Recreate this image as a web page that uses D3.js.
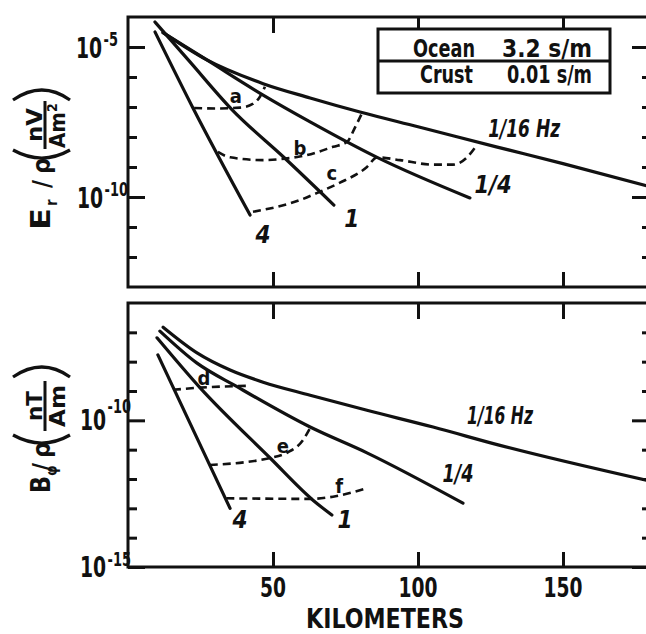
<!DOCTYPE html>
<html>
<head>
<meta charset="utf-8">
<script src="https://cdn.jsdelivr.net/npm/d3@7/dist/d3.min.js"></script>
<style>
body { margin: 0; background: #fff; }
svg { display: block; }
text { font-family: "DejaVu Sans Condensed", "DejaVu Sans", sans-serif; font-weight: bold; fill: #111; }
.curve-label { font-style: italic; }
</style>
</head>
<body>
<div class="chart"></div>
<script>

// x axis (km)
var kmTicks = [50, 100, 150];

// upper panel: E_r / rho  (nV / A m^2)
var erMajor = [1e-5, 1e-10];
var erMinor = [1e-6, 1e-7, 1e-8, 1e-9, 1e-11, 1e-12];
var erHz16 = [[12.1, 3.0e-5], [27.2, 3.7e-6], [46.6, 6.0e-7], [62.8, 2.0e-7], [80, 6.8e-8], [100, 2.2e-8], [127, 4.7e-9], [150, 1.3e-9], [180, 2.2e-10]];
var erHz4 = [[12.1, 3.0e-5], [27.2, 3.7e-6], [46.6, 2.5e-7], [62.8, 3.2e-8], [85.9, 2.1e-9], [117.9, 9.3e-11]];
var erHz1 = [[9.3, 6.8e-5], [21, 3.5e-6], [36, 7.9e-8], [54, 2.0e-9], [71, 5.4e-11]];
var erHz0 = [[9.3, 3.2e-5], [22.4, 9.3e-8], [42.1, 2.5e-11]];   // 4 Hz
var erA = [[22.8, 9.3e-8], [30, 8.9e-8], [38.6, 9.5e-8], [43, 1.26e-7], [45.5, 2.2e-7], [47.2, 4.7e-7]];
var erB = [[31, 3.2e-9], [35.2, 2.1e-9], [46.6, 1.7e-9], [54.1, 1.9e-9], [61.7, 2.5e-9], [70.7, 4.7e-9], [75.5, 6.8e-9], [78.3, 2.1e-8], [80.7, 6.3e-8]];
var erC = [[43.1, 3.2e-11], [59.3, 7.9e-11], [66.2, 1.5e-10], [73.1, 3.0e-10], [82.4, 1.0e-9], [85.9, 2.1e-9], [93.8, 1.7e-9], [105.2, 1.2e-9], [112.1, 1.2e-9], [116.9, 2.1e-9], [120.3, 5.4e-9]];
var erLabels = [["1/16 Hz", 136.6, 1e-8, 72], ["1/4", 125.9, 1.35e-10, 37], ["1", 77.2, 1e-11, 0], ["4", 46.6, 2.9e-12, 0]];
var erLetters = [["a", 37.2, 1.35e-7], ["b", 59.3, 2.5e-9], ["c", 70.3, 3.7e-10]];

// lower panel: B_phi / rho  (nT / A m)
var bpMajor = [1e-10, 1e-15];
var bpMinor = [1e-7, 1e-8, 1e-9, 1e-11, 1e-12, 1e-13, 1e-14];
var bpHz16 = [[12.1, 1.5e-7], [23.8, 2.0e-8], [35.2, 5.2e-9], [46.6, 2.0e-9], [62.8, 7.2e-10], [82.4, 2.2e-10], [105.2, 5.9e-11], [128.3, 1.4e-11], [180, 8.5e-13]];
var bpHz4 = [[11, 1.1e-7], [23.8, 8.9e-9], [37.6, 1.4e-9], [62.8, 5.9e-11], [82.4, 7.8e-12], [115.5, 1.5e-13]];
var bpHz1 = [[10, 6.5e-8], [24.8, 1.3e-9], [49, 5.2e-12], [63.8, 1.9e-13], [70.3, 5.9e-14]];
var bpHz0 = [[10.3, 1.7e-8], [35.2, 1.0e-13]];   // 4 Hz
var bpD = [[15.5, 1.1e-9], [24.8, 1.3e-9], [41, 1.5e-9]];
var bpE = [[28.2, 3.0e-12], [49, 5.2e-12], [54.8, 7.8e-12], [60.3, 2.1e-11], [62.8, 5.5e-11]];
var bpF = [[33.9, 2.2e-13], [62.8, 2.1e-13], [70.7, 2.5e-13], [81.7, 4.6e-13]];
var bpLabels = [["1/16 Hz", 128.3, 7.4e-11, 66], ["1/4", 113.8, 7.9e-13, 31], ["1", 74.8, 2.2e-14, 0], ["4", 38.6, 2.2e-14, 0]];
var bpLetters = [["d", 26.2, 1.6e-9], ["e", 53.4, 7.8e-12], ["f", 72.8, 3.3e-13]];

// conductivity table
var tableNames = ["Ocean", "Crust"];
var tableValues = ["3.2 s/m", "0.01 s/m"];

var width = 646, height = 634;

var svg = d3.select('.chart').append('svg').attr('width', width).attr('height', height);

var x = d3.scaleLinear().domain([0, 180]).range([128, 650]);
var yEr = d3.scaleLog().domain([1e-13, 1e-4]).range([287, 17]);
var yBp = d3.scaleLog().domain([1e-15, 1e-6]).range([567, 303]);

function squeeze(sel, len) {
  if (len > 0) sel.attr('textLength', len).attr('lengthAdjust', 'spacingAndGlyphs');
  return sel;
}

function drawAxes(g, y, majors, minors) {
  var x0 = x.range()[0], x1 = x.range()[1];
  var yb = y.range()[0], yt = y.range()[1];

  g.append('rect')
    .attr('x', x0).attr('y', yt)
    .attr('width', x1 - x0).attr('height', yb - yt)
    .attr('fill', 'none').attr('stroke', '#111').attr('stroke-width', 3);

  var axes = [
    [d3.axisLeft(y).tickValues(majors).tickSize(-17), 'translate(' + x0 + ',0)'],
    [d3.axisLeft(y).tickValues(minors).tickSize(-9), 'translate(' + x0 + ',0)'],
    [d3.axisRight(y).tickValues(majors).tickSize(-18), 'translate(' + x1 + ',0)'],
    [d3.axisRight(y).tickValues(minors).tickSize(-8), 'translate(' + x1 + ',0)'],
    [d3.axisTop(x).tickValues(kmTicks).tickSize(-16), 'translate(0,' + yt + ')'],
    [d3.axisBottom(x).tickValues(kmTicks).tickSize(-15), 'translate(0,' + yb + ')']
  ];
  axes.forEach(function(a) {
    var ag = g.append('g').attr('transform', a[1]).call(a[0].tickFormat(''));
    ag.select('.domain').remove();
    ag.selectAll('line').attr('stroke', '#111').attr('stroke-width', 3);
  });
}

// "10" plus a raised exponent, one text squeezed sideways
function powerLabel(g, yPos, exp, x10, base, supBase) {
  var t = g.append('text')
    .attr('transform', 'translate(' + x10 + ',' + (yPos + base) + ') scale(0.72,1)')
    .style('font-size', '29px');
  t.append('tspan').text('10');
  t.append('tspan').attr('dx', 2).attr('dy', supBase - base).style('font-size', '20px').text('-' + exp);
}

function drawCurves(g, y, solid, dashed) {
  var line = d3.line()
    .x(function(d) { return x(d[0]); })
    .y(function(d) { return y(d[1]); })
    .curve(d3.curveMonotoneX);

  g.selectAll('.solid').data(solid).enter().append('path')
    .attr('class', 'solid')
    .attr('d', line)
    .attr('fill', 'none').attr('stroke', '#111').attr('stroke-width', 3.2)
    .attr('stroke-linecap', 'round');

  g.selectAll('.dashed').data(dashed).enter().append('path')
    .attr('class', 'dashed')
    .attr('d', line)
    .attr('fill', 'none').attr('stroke', '#111').attr('stroke-width', 2.6)
    .attr('stroke-dasharray', '8,5');
}

function drawLabels(g, y, labels, letters) {
  labels.forEach(function(d) {
    var t = g.append('text')
      .attr('class', 'curve-label')
      .attr('x', x(d[1]) - (d[3] ? d[3] / 2 : 0))
      .attr('y', y(d[2]))
      .attr('text-anchor', d[3] ? 'start' : 'middle')
      .style('font-size', '24px')
      .text(d[0]);
    squeeze(t, d[3]);
  });

  g.selectAll('.letter').data(letters).enter().append('text')
    .attr('class', 'letter')
    .attr('x', function(d) { return x(d[1]); })
    .attr('y', function(d) { return y(d[2]); })
    .attr('text-anchor', 'middle')
    .style('font-size', '20px')
    .text(function(d) { return d[0]; });
}

// rotated y titles, drawn piece by piece
function yTitle(tx, ty, letter, sub, num, den, p) {
  var g = svg.append('g').attr('transform', 'translate(' + tx + ',' + ty + ') rotate(-90)');
  squeeze(g.append('text').attr('x', 0).attr('y', 0).style('font-size', '27px').text(letter), p.letterLen);
  g.append('text').attr('x', p.sub).attr('y', 7).style('font-size', '15px').text(sub);
  g.append('text').attr('x', p.slash).attr('y', 0).style('font-size', '24px').text('/');
  g.append('text').attr('x', p.rho).attr('y', 0).style('font-size', '25px').text('\u03c1');
  g.append('path').attr('d', 'M' + (p.open + 10) + ',-37 Q' + (p.open - 6) + ',-8 ' + (p.open + 10) + ',20')
    .attr('fill', 'none').attr('stroke', '#111').attr('stroke-width', 3.2);
  g.append('path').attr('d', 'M' + p.close + ',-37 Q' + (p.close + 20) + ',-8 ' + p.close + ',20')
    .attr('fill', 'none').attr('stroke', '#111').attr('stroke-width', 3.2);
  var cx = (p.open + 10 + p.close) / 2;
  g.append('line').attr('x1', cx - p.bar).attr('x2', cx + p.bar).attr('y1', -5).attr('y2', -5)
    .attr('stroke', '#111').attr('stroke-width', 3);
  squeeze(g.append('text').attr('x', cx - p.numLen / 2).attr('y', -8).style('font-size', '21px').text(num), p.numLen);
  var d = g.append('text').attr('x', cx - p.denLen / 2).attr('y', 15).style('font-size', '21px');
  squeeze(d.append('tspan').text(den[0]), p.denLen - (den[1] ? 10 : 0));
  if (den[1]) d.append('tspan').attr('dy', -8).style('font-size', '14px').text(den[1]);
}

var topG = svg.append('g');
var botG = svg.append('g');

drawAxes(topG, yEr, erMajor, erMinor);
drawAxes(botG, yBp, bpMajor, bpMinor);

drawCurves(topG, yEr, [erHz16, erHz4, erHz1, erHz0], [erA, erB, erC]);
drawCurves(botG, yBp, [bpHz16, bpHz4, bpHz1, bpHz0], [bpD, bpE, bpF]);

drawLabels(topG, yEr, erLabels, erLetters);
drawLabels(botG, yBp, bpLabels, bpLetters);

powerLabel(topG, yEr(1e-5), 5, 76, 11, -1);
powerLabel(topG, yEr(1e-10), 10, 77, 11, -1);
powerLabel(botG, yBp(1e-10), 10, 80, 10, -7);
powerLabel(botG, yBp(1e-15), 15, 80, 10, -1);

// x tick labels under the lower panel
botG.selectAll('.xlab').data(kmTicks).enter().append('text')
  .attr('class', 'xlab')
  .attr('x', function(d) { return x(d) - String(d).length * 6.5; })
  .attr('y', 597)
  .attr('textLength', function(d) { return String(d).length * 13; })
  .attr('lengthAdjust', 'spacingAndGlyphs')
  .style('font-size', '27px')
  .text(function(d) { return d; });

squeeze(svg.append('text').attr('x', 306).attr('y', 628)
  .style('font-size', '27px').text('KILOMETERS'), 158);

yTitle(50, 230, 'E', 'r', 'nV', ['Am', '2'], {letterLen: 22, sub: 24, slash: 42, rho: 56, open: 70, close: 130, bar: 24, numLen: 34, denLen: 46});
yTitle(50, 493, 'B', '\u03c6', 'nT', ['Am'], {letterLen: 17, sub: 17, slash: 22, rho: 35, open: 48, close: 116, bar: 25, numLen: 30, denLen: 42});

// conductivity table
var tab = svg.append('g');
tab.append('rect').attr('x', 378).attr('y', 29).attr('width', 232).attr('height', 64)
  .attr('fill', '#fff').attr('stroke', '#111').attr('stroke-width', 3);
tab.append('line').attr('x1', 378).attr('x2', 610).attr('y1', 61).attr('y2', 61)
  .attr('stroke', '#111').attr('stroke-width', 3);
var nameX = [413, 420], nameLen = [62, 53];
var valX = [502, 507], valLen = [90, 85];
tab.selectAll('.tname').data(tableNames).enter().append('text')
  .attr('x', function(d, i) { return nameX[i]; })
  .attr('y', function(d, i) { return 57 + i * 26; })
  .attr('textLength', function(d, i) { return nameLen[i]; })
  .attr('lengthAdjust', 'spacingAndGlyphs')
  .style('font-size', '24px')
  .text(function(d) { return d; });
tab.selectAll('.tval').data(tableValues).enter().append('text')
  .attr('x', function(d, i) { return valX[i]; })
  .attr('y', function(d, i) { return 57 + i * 26; })
  .attr('textLength', function(d, i) { return valLen[i]; })
  .attr('lengthAdjust', 'spacingAndGlyphs')
  .style('font-size', '24px')
  .text(function(d) { return d; });

</script>
</body>
</html>
